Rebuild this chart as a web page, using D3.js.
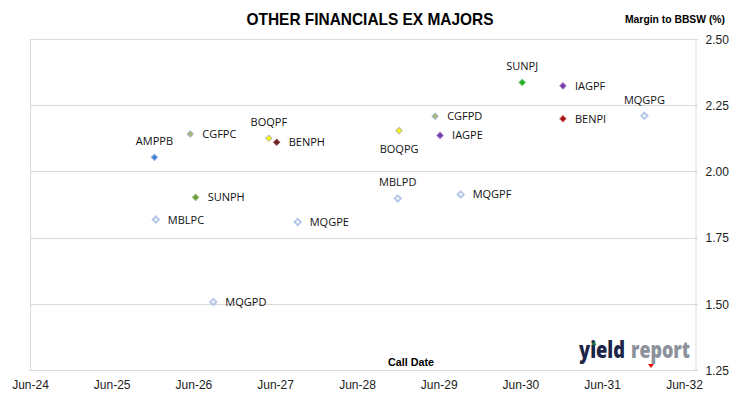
<!DOCTYPE html>
<html>
<head>
<meta charset="utf-8">
<script src="https://cdn.jsdelivr.net/npm/d3@7"></script>
<style>
	body { margin: 0; background: #fff; }
	svg { display: block; }
</style>
</head>
<body>
<div id="chart"></div>
<script>
// securities, call dates and margins
var names = ['AMPPB', 'MBLPC', 'CGFPC', 'SUNPH', 'MQGPD', 'BOQPF', 'BENPH', 'MQGPE',
	'MBLPD', 'BOQPG', 'CGFPD', 'IAGPE', 'MQGPF', 'SUNPJ', 'IAGPF', 'BENPI', 'MQGPG'];
var callDates = ['2025-12-09', '2025-12-15', '2026-05-18', '2026-06-11', '2026-08-29', '2027-05-04',
	'2027-06-08', '2027-09-10', '2028-11-30', '2028-12-06', '2029-05-16', '2029-06-07',
	'2029-09-07', '2030-06-09', '2030-12-08', '2030-12-08', '2031-12-07'];
var margins = [2.053, 1.818, 2.141, 1.902, 1.507, 2.125, 2.110, 1.809,
	1.898, 2.154, 2.208, 2.136, 1.913, 2.336, 2.323, 2.199, 2.210];
var xTickYears = [2024, 2025, 2026, 2027, 2028, 2029, 2030, 2031, 2032];
var yTicks = [1.25, 1.50, 1.75, 2.00, 2.25, 2.50];

// where each label sits relative to its point
var labelSide = {
	AMPPB: 'top', BOQPF: 'top', BOQPG: 'bottom', MBLPD: 'top', SUNPJ: 'top', MQGPG: 'top'
};

// marker colours [fill, stroke]
var hollow = ['#ffffff', '#b7c7e8'];
var markerColor = {
	AMPPB: ['#3e7dd6', '#86acdf'],
	MBLPC: hollow, MBLPD: hollow, MQGPD: hollow, MQGPE: hollow, MQGPF: hollow, MQGPG: hollow,
	CGFPC: ['#aab56c', '#9fb4cc'],
	CGFPD: ['#aab56c', '#9fb4cc'],
	SUNPH: ['#6b9c3a', '#8db466'],
	SUNPJ: ['#1faa1f', '#5cc45c'],
	BOQPF: ['#ffff00', '#b8b8a0'],
	BOQPG: ['#ffff00', '#b8b8a0'],
	BENPH: ['#6b1f1f', '#8c4b4b'],
	BENPI: ['#a00d0d', '#c25050'],
	IAGPE: ['#7436a8', '#9a6cc4'],
	IAGPF: ['#7436a8', '#9a6cc4']
};

var width = 730,
	height = 399,
	plot = { left: 30, right: 695, top: 39, bottom: 370 },
	gridColor = '#d9d9d9',
	labelFont = '"Open Sans", sans-serif',
	axisFont = '"Liberation Sans Narrow", "Liberation Sans", sans-serif';

var parse = d3.timeParse('%Y-%m-%d');
var points = names.map(function(n, i) {
	return { name: n, date: parse(callDates[i]), value: margins[i] };
});

var svg = d3.select('#chart').append('svg')
	.attr('width', width)
	.attr('height', height);

var x = d3.scaleTime()
	.domain([new Date(2024, 5, 1), new Date(2032, 6, 20)])
	.range([plot.left, plot.right]);

var y = d3.scaleLinear()
	.domain([1.25, 2.5])
	.range([plot.bottom, plot.top]);

// gridlines
svg.append('g')
	.selectAll('line')
	.data(yTicks)
	.enter().append('line')
	.attr('x1', plot.left)
	.attr('x2', plot.right + 3)
	.attr('y1', function(d) { return Math.round(y(d)) + 0.5; })
	.attr('y2', function(d) { return Math.round(y(d)) + 0.5; })
	.style('stroke', gridColor);

// left border and value axis line
svg.append('line')
	.attr('x1', plot.left + 0.5).attr('x2', plot.left + 0.5)
	.attr('y1', plot.top).attr('y2', plot.bottom)
	.style('stroke', gridColor);

var yAxis = svg.append('g')
	.attr('transform', 'translate(' + (plot.right + 0.5) + ',0.5)')
	.call(d3.axisRight(y).tickValues(yTicks).tickSize(0).tickPadding(10).tickFormat(d3.format('.2f')));
yAxis.select('.domain').style('stroke', gridColor);
yAxis.selectAll('text')
	.style('font-family', axisFont)
	.style('font-size', '12px')
	.style('fill', '#222');

var xAxis = svg.append('g')
	.attr('transform', 'translate(0,' + (plot.bottom + 0.5) + ')')
	.call(d3.axisBottom(x)
		.tickValues(xTickYears.map(function(yr) { return new Date(yr, 5, 1); }))
		.tickSize(0).tickPadding(10)
		.tickFormat(d3.timeFormat('%b-%y')));
xAxis.select('.domain').remove();
xAxis.selectAll('text')
	.style('font-family', axisFont)
	.style('font-size', '12px')
	.style('fill', '#222');

// markers
var diamond = d3.symbol().type(d3.symbolSquare).size(19);

var marks = svg.append('g')
	.selectAll('g')
	.data(points)
	.enter().append('g')
	.attr('transform', function(d) { return 'translate(' + x(d.date) + ',' + y(d.value) + ')'; });

marks.append('path')
	.attr('d', diamond)
	.attr('transform', 'rotate(45)')
	.style('fill', function(d) { return markerColor[d.name][0]; })
	.style('stroke', function(d) { return markerColor[d.name][1]; })
	.style('stroke-width', function(d) { return markerColor[d.name] === hollow ? 2 : 1; });

marks.append('text')
	.text(function(d) { return d.name; })
	.attr('x', function(d) { return labelSide[d.name] ? 0 : 12; })
	.attr('y', function(d) {
		var s = labelSide[d.name];
		if (s == 'top') return -12;
		if (s == 'bottom') return 22;
		return 4;
	})
	.style('text-anchor', function(d) { return labelSide[d.name] ? 'middle' : 'start'; })
	.style('font-family', labelFont)
	.style('font-size', '11px')
	.style('fill', '#111');

// titles
svg.append('text')
	.text('OTHER FINANCIALS EX MAJORS')
	.attr('x', 370)
	.attr('y', 25)
	.attr('textLength', 247)
	.attr('lengthAdjust', 'spacingAndGlyphs')
	.style('text-anchor', 'middle')
	.style('font-family', '"Liberation Sans", sans-serif')
	.style('font-weight', 'bold')
	.style('font-size', '17px')
	.style('fill', '#000');

svg.append('text')
	.text('Margin to BBSW (%)')
	.attr('x', 725)
	.attr('y', 23)
	.attr('textLength', 100)
	.attr('lengthAdjust', 'spacingAndGlyphs')
	.style('text-anchor', 'end')
	.style('font-family', '"Liberation Sans", sans-serif')
	.style('font-weight', 'bold')
	.style('font-size', '11px')
	.style('fill', '#000');

svg.append('text')
	.text('Call Date')
	.attr('x', 411)
	.attr('y', 366)
	.attr('textLength', 46)
	.attr('lengthAdjust', 'spacingAndGlyphs')
	.style('text-anchor', 'middle')
	.style('font-family', '"Liberation Sans", sans-serif')
	.style('font-weight', 'bold')
	.style('font-size', '11px')
	.style('fill', '#000');

// yieldreport logo
var logo = svg.append('g').attr('transform', 'translate(579,358)');
logo.append('text')
	.text('yield')
	.attr('textLength', 46)
	.attr('lengthAdjust', 'spacingAndGlyphs')
	.style('font-family', '"Open Sans", sans-serif')
	.style('font-weight', 800)
	.style('font-size', '22px')
	.style('fill', '#1c2448');
logo.append('text')
	.text('report')
	.attr('x', 52)
	.attr('textLength', 59)
	.attr('lengthAdjust', 'spacingAndGlyphs')
	.style('font-family', '"Open Sans", sans-serif')
	.style('font-weight', 800)
	.style('font-size', '22px')
	.style('fill', '#8b929c');
logo.append('path')
	.attr('d', 'M12.5,-13 L15,-17 L17.5,-13 Z')
	.style('fill', '#1f7a3a');
logo.append('path')
	.attr('d', 'M69,6 L75,6 L72,10 Z')
	.style('fill', '#e01010');
</script>
</body>
</html>
